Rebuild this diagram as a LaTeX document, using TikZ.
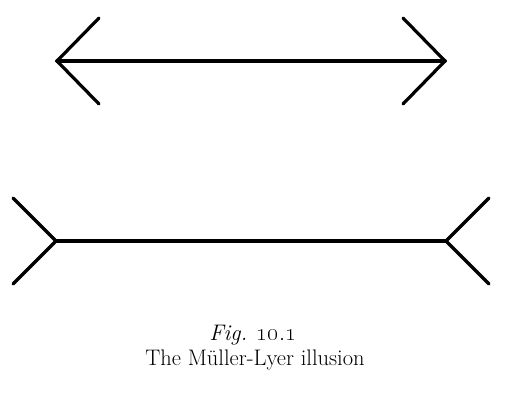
\documentclass[tikz,border=0pt]{standalone}
\begin{document}
\begin{tikzpicture}[x=1pt,y=-1pt,
  figline/.style={line width=3.2pt,line join=miter,line cap=round,black},
  captext/.style={anchor=base,inner sep=0pt,font=\fontsize{22.5}{26}\selectfont}]
\useasboundingbox (0,0) rectangle (507,402);
% top figure (arrowheads)
\coordinate (tl) at (57,61);
\coordinate (tr) at (445,61);
\coordinate (tlu) at (99,18);
\coordinate (tld) at (99,104);
\coordinate (tru) at (403,18);
\coordinate (trd) at (403,104);
\draw[figline] (tl) -- (tr);
\draw[figline] (tlu) -- (tl) -- (tld);
\draw[figline] (tru) -- (tr) -- (trd);
% bottom figure (fins)
\coordinate (bl) at (56,241);
\coordinate (br) at (446,241);
\coordinate (blu) at (13,198);
\coordinate (bld) at (13,284);
\coordinate (bru) at (489,198);
\coordinate (brd) at (489,284);
\draw[figline] (bl) -- (br);
\draw[figline] (blu) -- (bl) -- (bld);
\draw[figline] (bru) -- (br) -- (brd);
% caption
\node[captext] (figno) at (253,340) {\textit{Fig.} {\fontsize{27}{27}\selectfont\oldstylenums{10.1}}};
\node[captext] (title) at (255,365) {The Müller-Lyer illusion};
\end{tikzpicture}
\end{document}
